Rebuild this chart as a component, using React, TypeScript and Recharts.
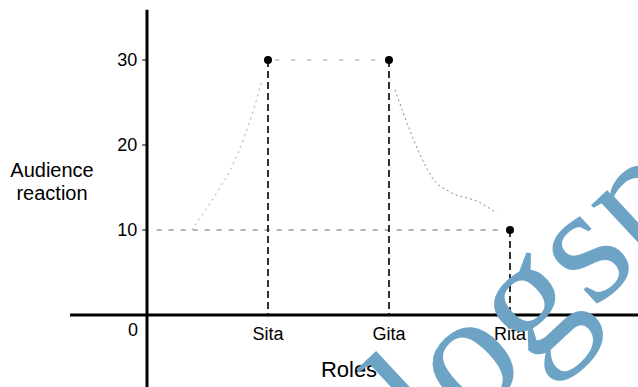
import React from "react";
import {
  ComposedChart,
  ReferenceDot,
  ReferenceLine,
  Scatter,
  XAxis,
  YAxis,
} from "recharts";

// values
const roles = ["Sita", "Gita", "Rita"];
const reaction = [30, 30, 10];
const yTicks = [10, 20, 30];

// faint hand-drawn trend strokes around the points
const riseX = [0.37, 0.59, 0.69, 0.8, 0.88, 0.95];
const riseY = [10, 14.7, 17.1, 20.8, 24.1, 27.6];
const fallX = [2.05, 2.17, 2.3, 2.36, 2.5, 2.74, 2.89];
const fallY = [26.5, 21.8, 17.6, 16.1, 14.5, 13.3, 12];

const X_MIN = -1.215;
const X_MAX = 4.058;
const Y_MIN = -8.47;
const Y_MAX = 37.06;

const FONT = "'Liberation Sans', Arial, sans-serif";

const points = roles.map((role, i) => ({ x: i + 1, y: reaction[i], role }));
const rise = riseX.map((x, i) => ({ x, y: riseY[i] }));
const fall = fallX.map((x, i) => ({ x, y: fallY[i] }));

function ZeroLabel({ viewBox }: any) {
  if (!viewBox) return null;
  return (
    <text
      x={viewBox.x - 13}
      y={viewBox.y + 22}
      textAnchor="middle"
      fontSize={18}
      fontFamily={FONT}
      fill="#000"
    >
      0
    </text>
  );
}

const noShape = () => <g />;

export default function App() {
  return (
    <div
      style={{
        position: "absolute",
        left: 0,
        top: 0,
        width: 638,
        height: 387,
        background: "#fff",
        overflow: "hidden",
      }}
    >
      <ComposedChart
        width={638}
        height={387}
        margin={{ top: 0, right: 0, bottom: 0, left: 0 }}
      >
        <XAxis
          type="number"
          dataKey="x"
          domain={[X_MIN, X_MAX]}
          allowDataOverflow
          hide
        />
        <YAxis
          type="number"
          dataKey="y"
          domain={[Y_MIN, Y_MAX]}
          allowDataOverflow
          hide
        />

        {/* axes */}
        <ReferenceLine
          segment={[
            { x: -0.636, y: 0 },
            { x: X_MAX, y: 0 },
          ]}
          stroke="#000"
          strokeWidth={3}
        />
        <ReferenceLine
          segment={[
            { x: 0, y: 35.9 },
            { x: 0, y: Y_MIN },
          ]}
          stroke="#000"
          strokeWidth={3}
        />
        {yTicks.map((t) => (
          <ReferenceLine
            key={t}
            segment={[
              { x: -0.04, y: t },
              { x: 0, y: t },
            ]}
            stroke="#000"
            strokeWidth={1}
            label={{
              value: String(t),
              position: "left",
              offset: 5,
              fill: "#000",
              fontSize: 18,
              fontFamily: FONT,
            }}
          />
        ))}
        <ReferenceDot
          x={0}
          y={0}
          r={1}
          fill="none"
          stroke="none"
          label={<ZeroLabel />}
        />

        {/* guide lines */}
        <ReferenceLine
          segment={[
            { x: points[0].x + 0.06, y: points[0].y },
            { x: points[1].x - 0.06, y: points[1].y },
          ]}
          stroke="#999"
          strokeWidth={1}
          strokeDasharray="4 12"
        />
        <ReferenceLine
          segment={[
            { x: 0.08, y: points[2].y },
            { x: points[2].x - 0.08, y: points[2].y },
          ]}
          stroke="#666"
          strokeWidth={1}
          strokeDasharray="5 7"
        />
        {points.map((p) => (
          <ReferenceLine
            key={p.role}
            segment={[
              { x: p.x, y: p.y },
              { x: p.x, y: 0 },
            ]}
            stroke="#000"
            strokeWidth={1.6}
            strokeDasharray="7 4"
            label={{
              value: p.role,
              position: "bottom",
              offset: 12,
              fill: "#000",
              fontSize: 18,
              fontFamily: FONT,
            }}
          />
        ))}

        <Scatter
          data={rise}
          dataKey="y"
          isAnimationActive={false}
          line={{ stroke: "#aaa", strokeWidth: 1, strokeDasharray: "2 4" }}
          lineJointType="monotoneX"
          shape={noShape}
        />
        <Scatter
          data={fall}
          dataKey="y"
          isAnimationActive={false}
          line={{ stroke: "#888", strokeWidth: 1, strokeDasharray: "2 3" }}
          lineJointType="monotoneX"
          shape={noShape}
        />
        <Scatter
          data={points}
          dataKey="y"
          isAnimationActive={false}
          shape={(p: any) => <circle cx={p.cx} cy={p.cy} r={4} fill="#000" />}
        />
      </ComposedChart>

      <svg
        width={638}
        height={387}
        style={{ position: "absolute", left: 0, top: 0, pointerEvents: "none" }}
      >
        <text x={52} y={177} textAnchor="middle" fontSize={20} fontFamily={FONT} fill="#000">
          Audience
        </text>
        <text x={52} y={200} textAnchor="middle" fontSize={20} fontFamily={FONT} fill="#000">
          reaction
        </text>
        <text x={349} y={377} textAnchor="middle" fontSize={22} fontFamily={FONT} fill="#000">
          Roles
        </text>
        <text
          transform="translate(372,516) rotate(-43)"
          fontSize={170}
          fontFamily="'Liberation Serif', 'Times New Roman', serif"
          fill="#6da4c6"
        >
          blogspot
        </text>
      </svg>
    </div>
  );
}
